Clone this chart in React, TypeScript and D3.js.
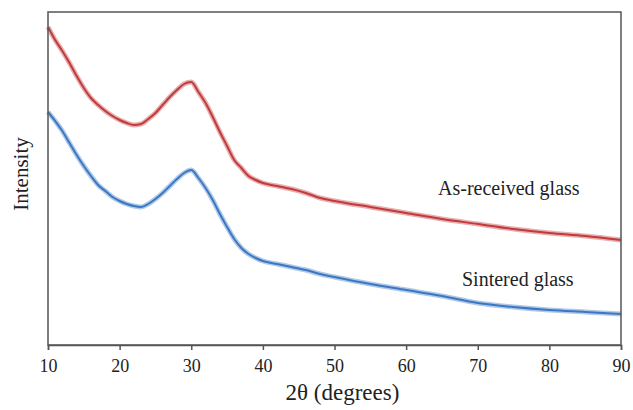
import React, { useEffect, useRef } from "react";
import * as d3 from "d3";

const twoTheta = [10, 11, 12, 13, 14, 15, 16, 17, 18, 19, 20, 21, 22, 23, 24, 25, 26, 27, 28, 29, 30,
  31, 32, 33, 34, 35, 36, 37, 38, 39, 40, 42, 44, 46, 48, 50, 55, 60, 65, 70, 75, 80, 85, 90];

// intensity, arbitrary units
const asReceived = [3180, 3050, 2940, 2820, 2690, 2570, 2470, 2400, 2340, 2290, 2250, 2220, 2200, 2210,
  2260, 2320, 2400, 2480, 2550, 2610, 2630, 2530, 2420, 2280, 2130, 1990, 1850, 1770, 1690, 1650, 1620,
  1590, 1560, 1520, 1470, 1440, 1380, 1320, 1260, 1210, 1160, 1120, 1090, 1050];

const sintered = [2330, 2240, 2140, 2020, 1900, 1790, 1690, 1600, 1540, 1480, 1440, 1410, 1390, 1380,
  1410, 1460, 1520, 1590, 1660, 1720, 1750, 1670, 1570, 1450, 1310, 1180, 1060, 970, 910, 870, 840,
  810, 780, 750, 710, 680, 610, 550, 490, 420, 380, 350, 330, 310];

const xTicks = [10, 20, 30, 40, 50, 60, 70, 80, 90];

const seriesNames = ["As-received glass", "Sintered glass"];

const FONT = '"Liberation Serif", "Times New Roman", Times, serif';

export default function App() {
  const ref = useRef<SVGSVGElement>(null);

  useEffect(() => {
    const svg = d3.select(ref.current);
    svg.selectAll("*").remove();

    const margin = { top: 12, right: 12, bottom: 65, left: 48 };
    const width = 633, height = 410;
    const x0 = margin.left, x1 = width - margin.right;
    const y0 = height - margin.bottom, y1 = margin.top;

    const x = d3.scaleLinear().domain([10, 90]).range([x0, x1]);
    const y = d3.scaleLinear().domain([0, 3330]).range([y0, y1]);

    const line = d3.line<number>()
      .x((d, i) => x(twoTheta[i]))
      .y((d) => y(d))
      .curve(d3.curveMonotoneX);

    const traces = [
      { values: asReceived, color: "#c13a3c" },
      { values: sintered, color: "#3b78c4" },
    ];

    traces.forEach((t) => {
      // soft band to hint at the noisy trace
      svg.append("path")
        .attr("d", line(t.values))
        .attr("fill", "none")
        .attr("stroke", t.color)
        .attr("stroke-opacity", 0.4)
        .attr("stroke-width", 5);
      svg.append("path")
        .attr("d", line(t.values))
        .attr("fill", "none")
        .attr("stroke", t.color)
        .attr("stroke-width", 2);
    });

    // frame
    svg.append("rect")
      .attr("x", x0)
      .attr("y", y1)
      .attr("width", x1 - x0)
      .attr("height", y0 - y1)
      .attr("fill", "none")
      .attr("stroke", "#555")
      .attr("stroke-width", 1.5);

    const xAxis = svg.append("g")
      .attr("transform", "translate(0," + y0 + ")")
      .call(d3.axisBottom(x).tickValues(xTicks).tickSize(5).tickPadding(9).tickFormat(d3.format("d")));
    xAxis.attr("font-family", null).attr("font-size", null);
    xAxis.select(".domain").attr("stroke", "#555").attr("stroke-width", 1.5);
    xAxis.selectAll(".tick line").attr("stroke", "#555").attr("stroke-width", 1.5);
    xAxis.selectAll("text")
      .style("font-family", FONT)
      .style("font-size", "18px")
      .attr("fill", "#222");

    svg.append("text")
      .attr("x", (x0 + x1) / 2 + 8)
      .attr("y", 400)
      .attr("text-anchor", "middle")
      .style("font-family", FONT)
      .style("font-size", "23px")
      .attr("fill", "#222")
      .text("2θ (degrees)");

    svg.append("text")
      .attr("transform", "translate(28,174) rotate(-90)")
      .attr("text-anchor", "middle")
      .style("font-family", FONT)
      .style("font-size", "21px")
      .attr("fill", "#222")
      .text("Intensity");

    svg.append("text")
      .attr("x", 438)
      .attr("y", 195)
      .style("font-family", FONT)
      .style("font-size", "20px")
      .attr("fill", "#222")
      .text(seriesNames[0]);

    svg.append("text")
      .attr("x", 462)
      .attr("y", 286)
      .style("font-family", FONT)
      .style("font-size", "20px")
      .attr("fill", "#222")
      .text(seriesNames[1]);
  }, []);

  return (
    <svg ref={ref} width={633} height={410}
      style={{ position: "absolute", left: 0, top: 0, background: "#fff" }} />
  );
}
